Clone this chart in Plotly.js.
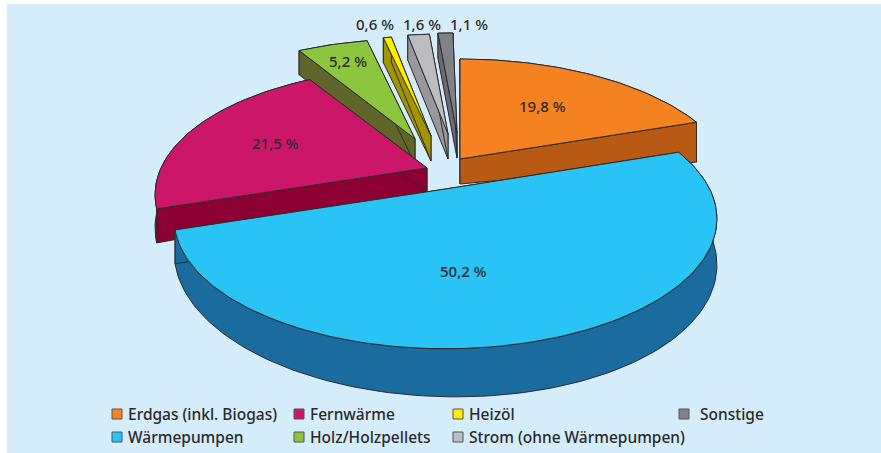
<!DOCTYPE html>
<html>
<head>
<meta charset="utf-8">
<script src="https://cdn.plot.ly/plotly-3.0.1.min.js"></script>
<style>html,body{margin:0;padding:0;background:#fff}#c{width:881px;height:453px}</style>
</head>
<body>
<div id="c"></div>
<script>
// ---- data ----
const categories = ["Erdgas (inkl. Biogas)", "Wärmepumpen", "Fernwärme", "Holz/Holzpellets", "Heizöl", "Strom (ohne Wärmepumpen)", "Sonstige"];
const shares = [19.8, 50.2, 21.5, 5.2, 0.6, 1.6, 1.1];

// ---- styles ----
const topColors  = ["#f58220", "#29c3f5", "#cc1769", "#8cc63f", "#ffed00", "#bcbdc0", "#808285"];
const wallColors = ["#b85a14", "#1a6b9e", "#8d0034", "#60652a", "#a39500", "#98989c", "#6a6a70"];
const edge = "#2b2b2b", ink = "#2a2a2a", bg = "#d5ecfb";

// ---- layout: where each exploded piece sits, and the perspective ----
const anchors = [[460,159],[445.5,189],[427,168],[415,139],[431,136],[448,134],[457,133]];
const xStretch = [1.008,0.993,1,1,1,1,1];
const xSkew = [0,0,-6,-4,-3.7,-4.5,-5];
const labelPos = [[542,106],[463,271],[275,143],[348,61],[375,23.5],[422,23.5],[469,23.5]];
const legendPos = [[117,414],[117,437],[299,414],[299,437],[458,414],[458,437],[684,414]];
const legendGap = [9,9,9,9,9,9,14];
const drawOrder = [3,4,5,6,0,2,1];
const RX = 266, RY = -123, G = 0.23, T0 = 25;

function project(a, b, u, v, ax, i) {
  const w = 1 + G * v;
  return [ax[0] + a * (RX * xStretch[i] * u + xSkew[i] * v) / w, ax[1] + b + a * RY * v / w];
}
function outerDepth(u, v) { return 37 - 11 * v + 6.7 * u; }

const total = shares.reduce((s, x) => s + x, 0);
let acc = 0;
const spans = shares.map(s => { const a0 = acc; acc += s; return [a0 / total * 2 * Math.PI, acc / total * 2 * Math.PI]; });

const traces = [];
function poly(pts, fill) {
  traces.push({
    x: pts.map(p => p[0]), y: pts.map(p => p[1]), type: "scatter", mode: "lines",
    fill: "toself", fillcolor: fill, line: {color: edge, width: 1},
    hoverinfo: "skip", showlegend: false
  });
}
drawOrder.forEach(i => {
  const ax = anchors[i], [a0, a1] = spans[i];
  const n = Math.max(6, Math.ceil((a1 - a0) * 40));
  const top = [], bot = [];
  for (let k = 0; k <= n; k++) {
    const t = a0 + (a1 - a0) * k / n, u = Math.sin(t), v = Math.cos(t);
    top.push(project(1, 0, u, v, ax, i));
    bot.push(project(1, outerDepth(u, v), u, v, ax, i));
  }
  const hubTop = project(0, 0, 0, 0, ax, i), hubBot = project(0, T0, 0, 0, ax, i);
  poly(top.concat(bot.slice().reverse(), [top[0]]), wallColors[i]);
  poly([hubTop, top[0], bot[0], hubBot, hubTop], wallColors[i]);
  poly([hubTop, top[n], bot[n], hubBot, hubTop], wallColors[i]);
  poly([hubTop].concat(top, [hubTop]), topColors[i]);
});

// legend swatches
traces.push({
  x: legendPos.map(p => p[0]), y: legendPos.map(p => p[1]), type: "scatter", mode: "markers",
  marker: {symbol: "square", size: 10, color: topColors, line: {color: "#555", width: 1}},
  hoverinfo: "skip", showlegend: false
});

const font = "'Noto Sans', 'Open Sans', sans-serif";
const annotations = [];
shares.forEach((s, i) => annotations.push({
  x: labelPos[i][0], y: labelPos[i][1], xref: "x", yref: "y", showarrow: false,
  text: s.toFixed(1).replace(".", ",") + " %", font: {family: font, size: 15, weight: 500, color: ink}
}));
categories.forEach((c, i) => annotations.push({
  x: legendPos[i][0] + legendGap[i], y: legendPos[i][1], xref: "x", yref: "y", showarrow: false,
  xanchor: "left", text: c, font: {family: font, size: 15.5, weight: 500, color: ink}
}));

Plotly.newPlot("c", traces, {
  width: 881, height: 453,
  margin: {l: 0, r: 0, t: 0, b: 0},
  paper_bgcolor: "#ffffff", plot_bgcolor: "#ffffff",
  xaxis: {range: [0, 881], visible: false, fixedrange: true},
  yaxis: {range: [453, 0], visible: false, fixedrange: true},
  shapes: [{type: "rect", xref: "x", yref: "y", x0: 7, x1: 881, y0: 4, y1: 453, fillcolor: bg, line: {width: 0}, layer: "below"}],
  annotations: annotations,
  showlegend: false
}, {displayModeBar: false, staticPlot: true});
</script>
</body>
</html>
